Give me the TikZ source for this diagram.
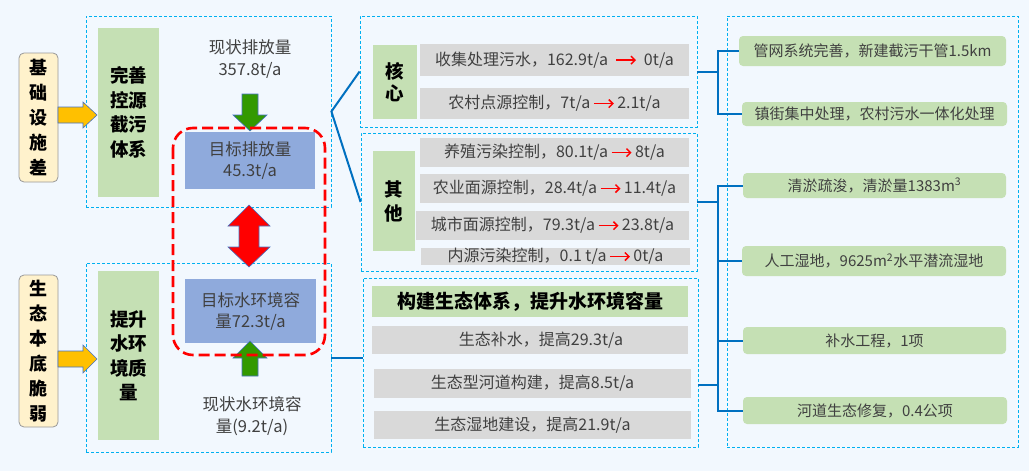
\documentclass[tikz,border=0pt]{standalone}
\usepackage{fontspec}
\setmainfont{Noto Sans CJK SC}
\usetikzlibrary{arrows.meta}
\definecolor{bgc}{RGB}{242,248,254}
\definecolor{dashc}{RGB}{0,176,240}
\definecolor{connc}{RGB}{0,112,192}
\definecolor{greenc}{RGB}{197,224,180}
\definecolor{grayc}{RGB}{217,217,217}
\definecolor{bluec}{RGB}{143,170,220}
\definecolor{creamc}{RGB}{255,242,204}
\definecolor{orangec}{RGB}{255,192,0}
\definecolor{arrowg}{RGB}{51,153,0}
\definecolor{edgec}{RGB}{68,114,196}
\definecolor{txtc}{RGB}{64,64,64}
\newcommand{\rar}{\tikz[baseline=-0.6ex]\draw[red,line width=1.5pt,-{Straight Barb[length=4pt,width=8pt]}] (0pt,0pt) -- (20pt,0pt);}
\begin{document}
\begin{tikzpicture}[x=1pt,y=-1pt,
 dbox/.style={draw=dashc,line width=0.8pt,dash pattern=on 3pt off 2pt,inner sep=0pt},
 conn/.style={draw=connc,line width=2pt},
 cream/.style={draw=gray!80,fill=creamc,rounded corners=5pt,line width=0.8pt,inner sep=0pt,align=center,font=\fontsize{18}{25}\selectfont\bfseries},
 gtitle/.style={fill=greenc,inner sep=0pt,align=center,font=\fontsize{18.5}{24.5}\selectfont\bfseries},
 row/.style={fill=grayc,inner sep=0pt,text=txtc,font=\fontsize{16}{20}\selectfont},
 rbox/.style={fill=greenc,rounded corners=4pt,inner sep=0pt,text=txtc,font=\fontsize{15}{18}\selectfont},
 bbox/.style={fill=bluec,inner sep=0pt,align=center,text=txtc,font=\fontsize{16.5}{21}\selectfont},
 plain/.style={inner sep=0pt,align=center,text=txtc,font=\fontsize{16.5}{22}\selectfont},
 blockarrow/.style={draw=edgec,line width=0.6pt},
 reddash/.style={draw=red,line width=2.6pt,dash pattern=on 11pt off 5pt,rounded corners=20pt},
]
\useasboundingbox[fill=bgc] (0,0) rectangle (1029,471);

% dashed frames
\node[dbox,minimum width=245,minimum height=191] (up) at (208.5,111.5) {};
\node[dbox,minimum width=245,minimum height=189] (lo) at (208.5,357.5) {};
\node[dbox,minimum width=337,minimum height=111] (hx) at (528.5,71.5) {};
\node[dbox,minimum width=336,minimum height=138] (qt) at (529,202) {};
\node[dbox,minimum width=335,minimum height=169] (gj) at (530.5,362.5) {};
\node[dbox,minimum width=291,minimum height=431] (rt) at (872.5,231.5) {};

% left
\node[cream,minimum width=39,minimum height=129] (jc) at (38.5,117.5) {基\\础\\设\\施\\差};
\node[cream,minimum width=39,minimum height=152] (st) at (38.5,351) {生\\态\\本\\底\\脆\\弱};
\node[gtitle,minimum width=61,minimum height=169] (ga) at (128.5,112.5) {完善\\控源\\截污\\体系};
\node[gtitle,minimum width=61,minimum height=169] (gb) at (128.5,355.5) {提升\\水环\\境质\\量};

\path[blockarrow,fill=orangec] (58,107) -- (83,107) -- (83,102) -- (97,115) -- (83,128) -- (83,123) -- (58,123) -- cycle;
\path[blockarrow,fill=orangec] (58,351) -- (83,351) -- (83,345) -- (97,359) -- (83,373) -- (83,367) -- (58,367) -- cycle;

\node[plain] (xz1) at (250,59) {现状排放量\\357.8t/a};
\node[plain] (xz2) at (252,416) {现状水环境容\\量(9.2t/a)};
\node[bbox,minimum width=130,minimum height=57] (mb1) at (250,160.5) {目标排放量\\45.3t/a};
\node[bbox,minimum width=131,minimum height=64] (mb2) at (250.5,311) {目标水环境容\\量72.3t/a};

\path[blockarrow,fill=arrowg] (242,94) -- (258,94) -- (258,115) -- (267,115) -- (250,131) -- (233,115) -- (242,115) -- cycle;
\path[blockarrow,fill=arrowg] (250,341) -- (267,358) -- (258,358) -- (258,376) -- (242,376) -- (242,358) -- (233,358) -- cycle;
\path[blockarrow,fill=red] (249,205) -- (270,226) -- (259,226) -- (259,247) -- (270,247) -- (249,267) -- (228,247) -- (239,247) -- (239,226) -- (228,226) -- cycle;
\draw[reddash] (173,128) rectangle (325,355);

% middle
\node[gtitle,minimum width=44,minimum height=74,font=\fontsize{18.5}{22}\selectfont\bfseries] (hxg) at (395,82) {核\\心};
\node[gtitle,minimum width=42,minimum height=100,font=\fontsize{18.5}{24}\selectfont\bfseries] (qtg) at (394,201) {其\\他};
\node[row,minimum width=269,minimum height=32] (r1) at (554.5,60) {收集处理污水，162.9t/a~~\rar~~0t/a};
\node[row,minimum width=269,minimum height=31] (r2) at (554.5,103.5) {农村点源控制，7t/a\,\rar\,2.1t/a};
\node[row,minimum width=269,minimum height=29] (r3) at (554.5,152.5) {养殖污染控制，80.1t/a\,\rar\,8t/a};
\node[row,minimum width=269,minimum height=29] (r4) at (554.5,188.5) {农业面源控制，28.4t/a\,\rar\,11.4t/a};
\node[row,minimum width=273,minimum height=29] (r5) at (552.5,225.5) {城市面源控制，79.3t/a\,\rar\,23.8t/a};
\node[row,minimum width=269,minimum height=17] (r6) at (555.5,256.5) {内源污染控制，0.1 t/a\,\rar\,0t/a};

\node[gtitle,minimum width=316,minimum height=31,font=\fontsize{19}{22}\selectfont\bfseries] (gt) at (530,301.5) {构建生态体系，提升水环境容量};
\node[row,minimum width=316,minimum height=28] (l1) at (530,340) {\hspace{22pt}生态补水，提高29.3t/a};
\node[row,minimum width=317,minimum height=29] (l2) at (532.5,383.5) {生态型河道构建，提高8.5t/a};
\node[row,minimum width=317,minimum height=28] (l3) at (532.5,425) {生态湿地建设，提高21.9t/a};

% right
\node[rbox,minimum width=267,minimum height=30] (gw) at (872.5,51) {管网系统完善，新建截污干管1.5km};
\node[rbox,minimum width=265,minimum height=24] (zj) at (874.5,114) {镇街集中处理，农村污水一体化处理};
\node[rbox,minimum width=263,minimum height=25] (qy) at (874.5,185.5) {清淤疏浚，清淤量1383m\textsuperscript{3}};
\node[rbox,minimum width=264,minimum height=30] (rg) at (874,261) {人工湿地，9625m\textsuperscript{2}水平潜流湿地};
\node[rbox,minimum width=263,minimum height=27] (bs) at (874.5,340.5) {补水工程，1项};
\node[rbox,minimum width=264,minimum height=27] (hd) at (875,410.5) {河道生态修复，0.4公项};

% connectors
\draw[conn] (hx.west) -- (up.east) -- (qt.west);
\draw[conn] (lo.east) -- (lo.east -| gj.west);
\coordinate (j1) at (718,71.5);
\coordinate (j2) at (718,202);
\coordinate (gjout) at (698,385);
\draw[conn] (hx.east) -- (j1);
\draw[conn] (gw.west) -| (j1) |- (zj.west);
\draw[conn] (qt.east) -- (j2);
\draw[conn] (qy.west) -| (j2) |- (hd.west);
\draw[conn] (rg.west) -- (rg.west -| j2);
\draw[conn] (bs.west) -- (bs.west -| j2);
\draw[conn] (gjout) -- (gjout -| j2);
\end{tikzpicture}
\end{document}
